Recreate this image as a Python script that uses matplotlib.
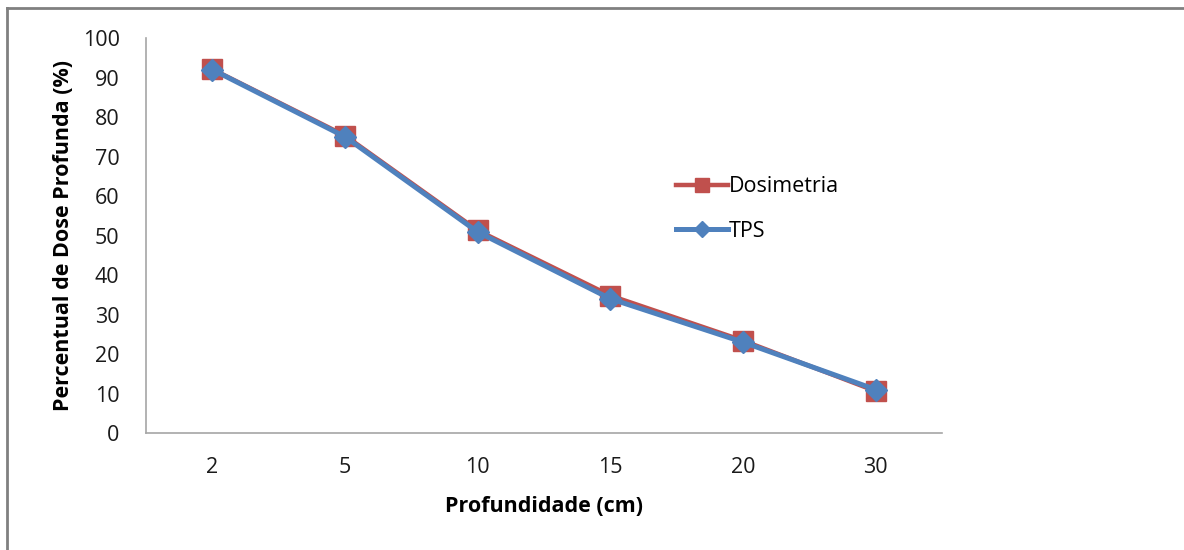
import matplotlib.pyplot as plt
from matplotlib.lines import Line2D


# ==========================
# Data
# ==========================

profundidade = ["2", "5", "10", "15", "20", "30"]

dosimetria = [92.1, 75.3, 51.3, 34.8, 23.4, 10.6]

tps = [92.0, 75.0, 50.9, 34.0, 23.0, 11.0]


# ==========================
# Figure
# ==========================

plt.rcParams["font.family"] = ["Open Sans", "DejaVu Sans"]

fig = plt.figure(
    figsize=(11.84, 5.5),
    dpi=100
)

ax = fig.add_axes([0.1233, 0.2127, 0.6723, 0.7182])

x = list(range(len(profundidade)))

ax.plot(
    x,
    dosimetria,
    color="#C0504D",
    linewidth=3.2,
    marker="s",
    markersize=14,
    label="Dosimetria"
)

ax.plot(
    x,
    tps,
    color="#4F81BD",
    linewidth=3.6,
    marker="D",
    markersize=11,
    label="TPS"
)


# ==========================
# Axes style
# ==========================

ax.set_xlim(-0.5, 5.5)
ax.set_ylim(0, 100)
ax.set_yticks(range(0, 101, 10))
ax.set_xticks(x)
ax.set_xticklabels(profundidade)

ax.spines["top"].set_visible(False)
ax.spines["right"].set_visible(False)
ax.spines["left"].set_color("#A6A6A6")
ax.spines["bottom"].set_color("#A6A6A6")
ax.spines["left"].set_linewidth(1.2)
ax.spines["bottom"].set_linewidth(1.2)

ax.tick_params(
    length=0,
    labelsize=15.5,
    colors="#1a1a1a"
)
ax.tick_params(axis="x", pad=17)
ax.tick_params(axis="y", pad=19)

ax.set_xlabel(
    "Profundidade (cm)",
    fontsize=15.5,
    fontweight="bold",
    labelpad=13
)

ax.set_ylabel(
    "Percentual de Dose Profunda (%)",
    fontsize=15.5,
    fontweight="bold",
    labelpad=6
)

ax.legend(
    loc="upper left",
    bbox_to_anchor=(0.555, 0.715),
    bbox_transform=fig.transFigure,
    frameon=False,
    fontsize=15.5,
    markerscale=0.75,
    handlelength=2.4,
    handletextpad=0.05,
    labelspacing=1.1
)


# ==========================
# Chart border (top and left)
# ==========================

fig.add_artist(Line2D([0.006, 1.0], [0.985, 0.985], color="#808080", linewidth=2))
fig.add_artist(Line2D([0.006, 0.006], [0.0, 0.985], color="#808080", linewidth=2))

fig.savefig("out.png", dpi=100)
